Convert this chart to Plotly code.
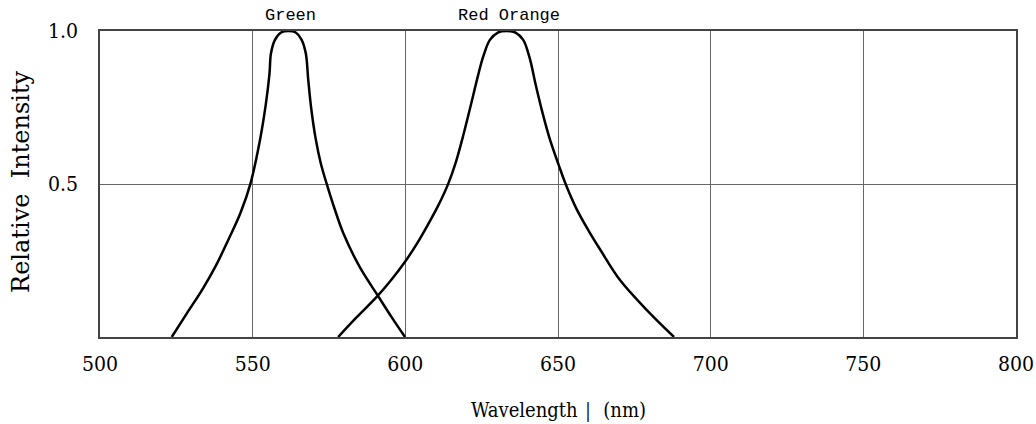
import plotly.graph_objects as go

green_nm = [523.5, 528.5, 533.8, 538.0, 542.0, 546.0, 549.3, 552.4, 554.3, 555.5, 556.0,
            557.3, 559.3, 561.7, 564.1, 566.0, 567.4, 568.2, 569.2, 570.6, 572.3, 574.2,
            576.8, 579.7, 585.0, 591.2, 595.5, 599.9]
green_val = [0.0, 0.078, 0.160, 0.234, 0.317, 0.405, 0.502, 0.644, 0.760, 0.860, 0.927,
             0.971, 0.995, 1.0, 0.995, 0.972, 0.927, 0.840, 0.745, 0.650, 0.568, 0.502,
             0.420, 0.339, 0.230, 0.132, 0.065, 0.0]

red_nm = [578.0, 584.0, 590.7, 595.5, 599.9, 603.5, 607.0, 610.8, 614.1, 616.5, 619.0,
          621.5, 623.7, 625.5, 627.7, 630.3, 633.2, 636.1, 638.6, 640.6, 642.8, 645.0,
          647.4, 650.3, 652.5, 656.1, 660.0, 663.8, 670.3, 679.1, 688.0]
red_val = [0.0, 0.064, 0.132, 0.188, 0.246, 0.300, 0.360, 0.430, 0.502, 0.570, 0.660,
           0.760, 0.850, 0.916, 0.971, 0.995, 1.0, 0.995, 0.971, 0.916, 0.820, 0.730,
           0.644, 0.560, 0.500, 0.418, 0.348, 0.286, 0.186, 0.088, 0.0]

x_ticks = [500, 550, 600, 650, 700, 750, 800]
y_ticks = [0.5, 1.0]
y_tick_text = ["0.5", "1.0"]

series_labels = ["Green", "Red Orange"]
label_x = [562.5, 634.0]

x_title = "Wavelength\uff5c (nm)"
y_title = "Relative  Intensity"

serif = "DejaVu Serif Condensed, DejaVu Serif, serif"
mono = "Liberation Mono, Courier New, monospace"

fig = go.Figure()
line_style = dict(color="black", width=2.5, shape="spline", smoothing=1.0)
fig.add_trace(go.Scatter(x=green_nm, y=green_val, mode="lines", line=line_style,
                         name="Green", showlegend=False))
fig.add_trace(go.Scatter(x=red_nm, y=red_val, mode="lines", line=line_style,
                         name="Red Orange", showlegend=False))

for lab, lx in zip(series_labels, label_x):
    fig.add_annotation(x=lx, y=1.0, xref="x", yref="y", text=lab, showarrow=False,
                       yshift=16, yanchor="middle",
                       font=dict(family=mono, size=17, color="black"))

fig.add_annotation(x=0.5, y=-0.2386, xref="paper", yref="paper", text=x_title,
                   showarrow=False, xanchor="center", yanchor="middle",
                   font=dict(family=serif, size=20, color="black"))
fig.add_annotation(x=-0.0862, y=0.507, xref="paper", yref="paper", text=y_title,
                   showarrow=False, xanchor="center", yanchor="middle", textangle=-90,
                   font=dict(family="DejaVu Serif, serif", size=24, color="black"))

fig.update_layout(
    width=1036, height=424,
    margin=dict(l=100, r=20, t=31, b=87),
    paper_bgcolor="white", plot_bgcolor="white",
    font=dict(family=serif, color="black"),
    hovermode=False,
)
fig.update_xaxes(range=[500, 800], tickvals=x_ticks, ticktext=[str(v) for v in x_ticks],
                 showgrid=True, gridcolor="#666", gridwidth=1, automargin=False,
                 showline=True, linecolor="#444", linewidth=1.5, mirror=True,
                 zeroline=False, ticks="", ticklabelstandoff=7,
                 tickfont=dict(family=serif, size=21))
fig.update_yaxes(range=[0, 1], tickvals=y_ticks, ticktext=y_tick_text,
                 showgrid=True, gridcolor="#666", gridwidth=1, automargin=False,
                 showline=True, linecolor="#444", linewidth=1.5, mirror=True,
                 zeroline=False, ticks="", ticklabelstandoff=16,
                 tickfont=dict(family=serif, size=21))

# remove the default page margin so the 1036x424 figure fills the window exactly
page_fix = ("document.documentElement.style.margin='0';document.body.style.margin='0';"
            "document.documentElement.style.overflow='hidden';document.body.style.overflow='hidden';")
fig.write_html("out.html", post_script=page_fix, config={"displayModeBar": False})
